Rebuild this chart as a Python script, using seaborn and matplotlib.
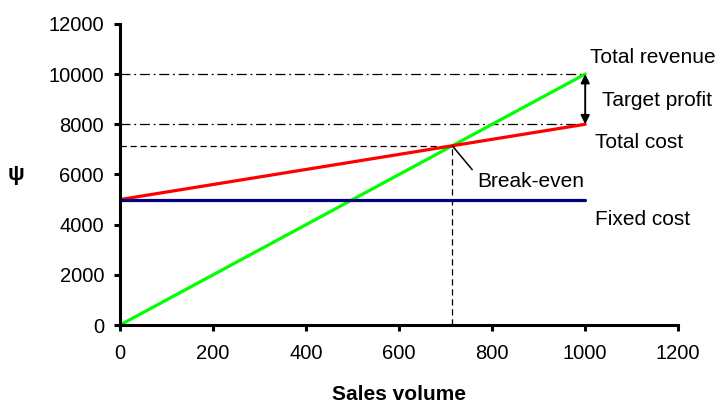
import numpy as np
import pandas as pd
import matplotlib
matplotlib.use("Agg")
import matplotlib.pyplot as plt
import seaborn as sns

# Data
volume = [0, 1000]
revenue = [0, 10000]
total_cost = [5000, 8000]
fixed_cost = [5000, 5000]
x_ticks = [0, 200, 400, 600, 800, 1000, 1200]
y_ticks = [0, 2000, 4000, 6000, 8000, 10000, 12000]

df = pd.DataFrame({
    "volume": volume * 3,
    "value": revenue + total_cost + fixed_cost,
    "series": ["Total revenue"] * 2 + ["Total cost"] * 2 + ["Fixed cost"] * 2,
})

# break-even point from the two lines
rev_slope = (revenue[1] - revenue[0]) / (volume[1] - volume[0])
cost_slope = (total_cost[1] - total_cost[0]) / (volume[1] - volume[0])
be_x = (total_cost[0] - revenue[0]) / (rev_slope - cost_slope)
be_y = revenue[0] + rev_slope * be_x

sns.set_style("white")
plt.rcParams["font.family"] = ["Liberation Sans", "DejaVu Sans"]
plt.rcParams["text.color"] = "black"
plt.rcParams["axes.labelcolor"] = "black"

fig = plt.figure(figsize=(7.2, 4.05), dpi=100)
ax = fig.add_axes([0.1667, 0.1975, 0.7753, 0.7435])

# Reference lines
ax.plot([0, volume[1]], [revenue[1], revenue[1]], color="black", lw=0.9, ls="-.", dashes=(8, 3, 1.5, 3))
ax.plot([0, volume[1]], [total_cost[1], total_cost[1]], color="black", lw=0.9, ls="-.", dashes=(8, 3, 1.5, 3))
ax.plot([0, be_x], [be_y, be_y], color="black", lw=0.9, ls="--", dashes=(5, 3))
ax.plot([be_x, be_x], [0, be_y], color="black", lw=0.9, ls="--", dashes=(5, 3))

sns.lineplot(data=df, x="volume", y="value", hue="series",
             palette={"Total revenue": "#00FF00", "Total cost": "#FF0000", "Fixed cost": "#000080"},
             linewidth=2.3, legend=False, ax=ax)

ax.annotate("", xy=(volume[1], total_cost[1]), xytext=(volume[1], revenue[1]),
            arrowprops=dict(arrowstyle="<|-|>", color="black", lw=1.4, mutation_scale=13,
                            shrinkA=0, shrinkB=0))

fs = 15
ax.text(1011, 10446, "Total revenue", fontsize=fs, va="baseline", ha="left")
ax.text(1037, 8732, "Target profit", fontsize=fs, va="baseline", ha="left")
ax.text(1021, 7057, "Total cost", fontsize=fs, va="baseline", ha="left")
ax.text(1021, 3987, "Fixed cost", fontsize=fs, va="baseline", ha="left")
ax.annotate("Break-even", xy=(be_x, be_y), xytext=(768, 5502), fontsize=fs,
            va="baseline", ha="left",
            arrowprops=dict(arrowstyle="-", color="black", lw=1.1, shrinkA=2, shrinkB=0,
                            relpos=(0, 0.8)))

ax.set_xlim(0, 1200)
ax.set_ylim(0, 12000)
ax.set_xticks(x_ticks)
ax.set_yticks(y_ticks)
ax.tick_params(axis="both", labelsize=14.5, direction="out", length=4.5, width=2.2,
               left=True, bottom=True, colors="black")
ax.tick_params(axis="x", pad=9)
ax.tick_params(axis="y", pad=7)
ax.set_xlabel("Sales volume", fontsize=15, fontweight="bold")
ax.xaxis.set_label_coords(0.5, -0.2)
ax.set_ylabel("ψ", fontsize=16, fontweight="bold", rotation=0, va="center", ha="center")
ax.yaxis.set_label_coords(-0.186, 0.5)

sns.despine(ax=ax)
for s in ["left", "bottom"]:
    ax.spines[s].set_linewidth(2.2)
    ax.spines[s].set_color("black")

fig.savefig("out.png", dpi=100)
